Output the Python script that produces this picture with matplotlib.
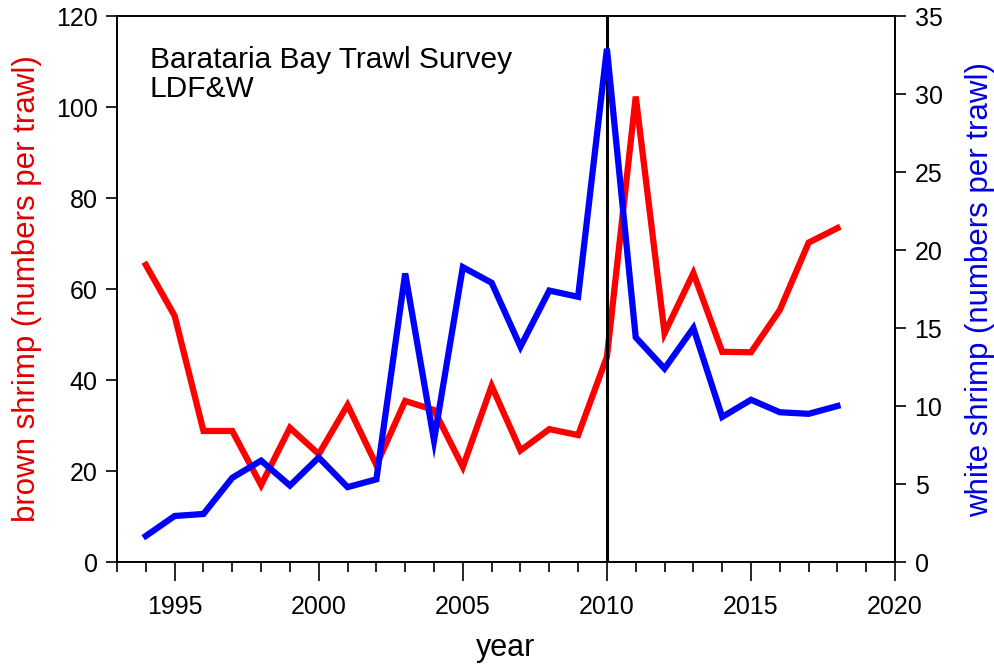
import matplotlib
matplotlib.use("Agg")
from matplotlib import pyplot as plt
from matplotlib.ticker import MultipleLocator

plt.rcParams['font.family'] = ['Liberation Sans', 'DejaVu Sans']

years = list(range(1994, 2019))
brown = [65.3, 54.1, 28.8, 28.8, 16.9, 29.5, 23.7, 34.5, 21.3, 35.4,
         33.4, 20.9, 38.7, 24.5, 29.2, 27.9, 45.1, 102.3, 50.3, 63.5,
         46.2, 46.1, 55.4, 70.2, 73.4]
white = [1.67, 2.95, 3.08, 5.4, 6.5, 4.9, 6.7, 4.8, 5.3, 18.5,
         7.8, 18.9, 17.9, 13.8, 17.4, 17.0, 32.9, 14.4, 12.4, 15.0,
         9.3, 10.4, 9.6, 9.5, 10.0]
event_year = 2010

fig = plt.figure(figsize=(9.95, 6.67), dpi=100)
ax = fig.add_axes([0.1176, 0.1574, 0.782, 0.8186])
ax2 = ax.twinx()

ax.plot(years, brown, color='#ff0000', lw=4.5, solid_joinstyle='miter', zorder=3)
ax2.plot(years, white, color='#0000ff', lw=4.5, solid_joinstyle='miter', zorder=3)
ax.axvline(event_year, color='black', lw=2.2, zorder=4)

ax.set_xlim(1993, 2020)
ax.set_ylim(0, 120)
ax2.set_ylim(0, 35)
ax.xaxis.set_major_locator(MultipleLocator(5))
ax.xaxis.set_minor_locator(MultipleLocator(1))
ax.yaxis.set_major_locator(MultipleLocator(20))
ax2.yaxis.set_major_locator(MultipleLocator(5))

for a in (ax, ax2):
    a.tick_params(axis='both', which='major', direction='out', length=8,
                  width=1.2, labelsize=18, pad=6)
    for s in a.spines.values():
        s.set_linewidth(1.2)
ax.tick_params(axis='x', which='major', length=14, pad=10)
ax.tick_params(axis='x', which='minor', direction='out', length=7, width=1.2)

ax.set_xlabel('year', fontsize=22, labelpad=10)
ax.set_ylabel('brown shrimp (numbers per trawl)', fontsize=22.5,
              color='#e00000', labelpad=10)
ax2.set_ylabel('white shrimp (numbers per trawl)', fontsize=22.5,
               color='#0000e0', labelpad=16)

ax.text(0.042, 0.945, 'Barataria Bay Trawl Survey\nLDF&W', transform=ax.transAxes,
        fontsize=21.5, va='top', ha='left', linespacing=1.05)

fig.savefig('out.png', dpi=100)
